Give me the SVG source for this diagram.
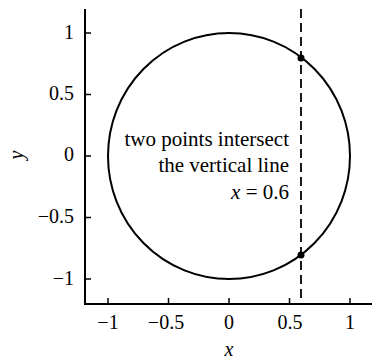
<svg xmlns="http://www.w3.org/2000/svg" width="372" height="362" viewBox="0 0 372 362">
<style>
.ax{stroke:#000;stroke-width:2;fill:none}
.tk{stroke:#000;stroke-width:1.5}
.i{font-style:italic}
</style>
<rect width="372" height="362" fill="#fff"/>
<g id="axes">
<path class="ax" d="M85,9 V304 H372"/>
<path class="tk" d="M85,33 h6 M85,94.5 h6 M85,156 h6 M85,217.5 h6 M85,279 h6 M108,304 v-6 M168.5,304 v-6 M229,304 v-6 M289.5,304 v-6 M350,304 v-6"/>
</g>
<g id="labels" font-family="Liberation Serif, serif" font-size="20" fill="#000">
<text x="74" y="39" text-anchor="end">1</text>
<text x="74" y="100" text-anchor="end">0.5</text>
<text x="74" y="161" text-anchor="end">0</text>
<text x="74" y="223" text-anchor="end">−0.5</text>
<text x="74" y="285" text-anchor="end">−1</text>
<text x="108" y="329" text-anchor="middle">−1</text>
<text x="166" y="329" text-anchor="middle">−0.5</text>
<text x="229" y="329" text-anchor="middle">0</text>
<text x="290" y="329" text-anchor="middle">0.5</text>
<text x="350" y="329" text-anchor="middle">1</text>
<text class="i" x="229" y="356" text-anchor="middle">x</text>
<text class="i" x="0" y="0" text-anchor="middle" transform="translate(23,155) rotate(-90)">y</text>
</g>
<g id="circle">
<ellipse cx="229" cy="156" rx="121" ry="123" fill="none" stroke="#000" stroke-width="2"/>
</g>
<g id="connectors">
<line x1="301" y1="9" x2="301" y2="304" stroke="#000" stroke-width="1.8" stroke-dasharray="9,5"/>
</g>
<g id="points">
<circle cx="301" cy="58" r="3.5" fill="#000"/>
<circle cx="301" cy="255" r="3.5" fill="#000"/>
</g>
<g id="note" font-family="Liberation Serif, serif" font-size="21" fill="#000">
<text x="289" y="146" text-anchor="end">two points intersect</text>
<text x="289" y="172" text-anchor="end">the vertical line</text>
<text x="289" y="199" text-anchor="end"><tspan class="i">x</tspan> = 0.6</text>
</g>
</svg>
